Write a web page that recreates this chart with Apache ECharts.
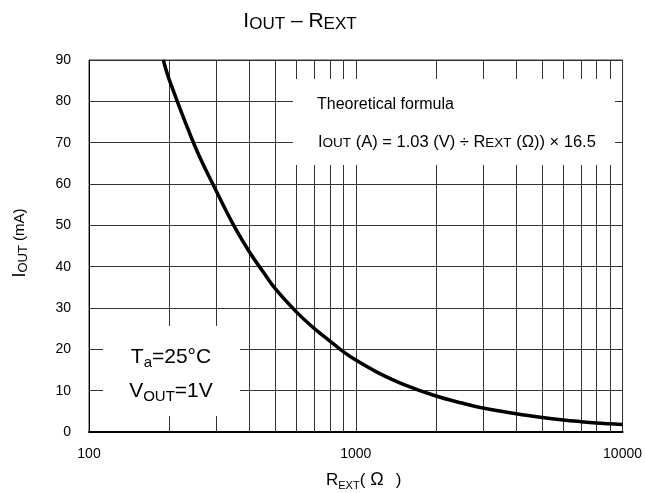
<!DOCTYPE html>
<html><head><meta charset="utf-8">
<script src="https://cdn.jsdelivr.net/npm/echarts@6/dist/echarts.min.js"></script>
<style>html,body{margin:0;padding:0;background:#fff}#c{width:645px;height:493px}</style>
</head><body><div id="c"></div>
<script>
// Data
const rExt = [190, 200, 250, 300, 350, 400, 450, 500, 600, 700, 800, 900, 1000, 1200, 1500, 2000, 2500, 3000, 4000, 5000, 6000, 7000, 8000, 9000, 10000];
const iOut = [90, 85.2, 69, 58.3, 49.8, 43.5, 38.7, 34.6, 29, 25, 22, 19.4, 17.4, 14.5, 11.6, 8.7, 7.0, 5.8, 4.4, 3.5, 2.9, 2.5, 2.2, 2.0, 1.8];
// Axis ticks
const xMajorTicks = [100, 1000, 10000];
const xMinorGrid = [200, 300, 400, 500, 600, 700, 800, 900, 2000, 3000, 4000, 5000, 6000, 7000, 8000, 9000];
const yMin = 0, yMax = 90, yStep = 10;

const FONT = "'Liberation Sans', Arial, sans-serif";
const chart = echarts.init(document.getElementById('c'), null, {renderer: 'canvas'});

function rich(main, sub, mainLH, subLH) {
  return {
    m: {fontSize: main, fontFamily: FONT, color: '#000', lineHeight: mainLH},
    s: {fontSize: sub, fontFamily: FONT, color: '#000', lineHeight: subLH, verticalAlign: 'bottom'}
  };
}

const grid = {left: 89, right: 20, top: 60, bottom: 61};

chart.setOption({
  animation: false,
  backgroundColor: '#fff',
  grid: Object.assign({show: true, borderColor: '#333', borderWidth: 1, backgroundColor: 'transparent'}, grid),
  xAxis: {
    type: 'log', logBase: 10, min: xMajorTicks[0], max: xMajorTicks[xMajorTicks.length - 1],
    axisLine: {show: true, lineStyle: {color: '#000', width: 2}},
    axisTick: {show: false},
    axisLabel: {fontSize: 14, fontFamily: FONT, color: '#000', margin: 15, formatter: v => String(Math.round(v))},
    splitLine: {show: true, lineStyle: {color: '#333', width: 1}},
    minorTick: {show: false}, minorSplitLine: {show: false}
  },
  yAxis: {
    type: 'value', min: yMin, max: yMax, interval: yStep,
    axisLine: {show: true, lineStyle: {color: '#000', width: 1}},
    axisTick: {show: false},
    axisLabel: {fontSize: 14, fontFamily: FONT, color: '#000', margin: 18},
    splitLine: {show: true, lineStyle: {color: '#333', width: 1}}
  },
  series: [
    {
      type: 'line', data: [], z: 1, silent: true,
      markLine: {
        silent: true, symbol: 'none', animation: false,
        label: {show: false},
        lineStyle: {color: '#333', width: 1, type: 'solid'},
        data: xMinorGrid.map(v => ({xAxis: v}))
      }
    },
    {
      type: 'line', z: 10, smooth: 0.4, symbol: 'none',
      lineStyle: {color: '#000', width: 3.5},
      data: rExt.map((r, i) => [r, iOut[i]])
    }
  ],
  graphic: [
    // white backgrounds behind annotation boxes (gridlines interrupted)
    {type: 'rect', z: 8, shape: {x: 293, y: 79, width: 322, height: 86}, style: {fill: '#fff'}},
    {type: 'rect', z: 8, shape: {x: 103, y: 326, width: 137, height: 90}, style: {fill: '#fff'}},
    // title
    {type: 'text', z: 20, x: 300, y: 21, style: {
      text: '{m|I}{s|OUT}{m| – R}{s|EXT}', align: 'center', verticalAlign: 'middle',
      rich: rich(21, 17, 24, 21)}},
    // y axis name
    {type: 'text', z: 20, x: 20, y: 243, rotation: Math.PI / 2, style: {
      text: '{m|I}{s|OUT}{n| (mA)}', align: 'center', verticalAlign: 'middle',
      rich: Object.assign(rich(18, 13, 20, 18), {n: {fontSize: 15, fontFamily: FONT, color: '#000', lineHeight: 20}})}},
    // x axis name
    {type: 'text', z: 20, x: 326, y: 480, style: {
      text: '{m|R}{s|EXT}{p|(}{o|Ω}{p|)}', align: 'left', verticalAlign: 'middle',
      rich: Object.assign(rich(17, 11, 22, 14), {
        p: {fontSize: 17, fontFamily: FONT, color: '#000', lineHeight: 22},
        o: {fontSize: 18, fontFamily: FONT, color: '#000', lineHeight: 22, padding: [0, 12, 0, 5]}
      })}},
    // formula box
    {type: 'text', z: 20, x: 317, y: 105, style: {
      text: 'Theoretical formula', fill: '#000', font: '16px ' + FONT, align: 'left', verticalAlign: 'middle'}},
    {type: 'text', z: 20, x: 318, y: 142, style: {
      text: '{m|I}{s|OUT}{m| (A) = 1.03 (V) ÷ R}{s|EXT}{m| (Ω)) × 16.5}', align: 'left', verticalAlign: 'middle',
      rich: {
        m: {fontSize: 16.5, fontFamily: FONT, color: '#000', verticalAlign: 'bottom'},
        s: {fontSize: 13.5, fontFamily: FONT, color: '#000', verticalAlign: 'bottom'}
      }}},
    // conditions
    {type: 'text', z: 20, x: 171, y: 357, style: {
      text: '{m|T}{s|a}{m|=25°C}', align: 'center', verticalAlign: 'middle',
      rich: rich(21, 15, 26, 16)}},
    {type: 'text', z: 20, x: 171, y: 391, style: {
      text: '{m|V}{s|OUT}{m|=1V}', align: 'center', verticalAlign: 'middle',
      rich: rich(21, 15, 26, 18)}}
  ]
});
</script></body></html>
